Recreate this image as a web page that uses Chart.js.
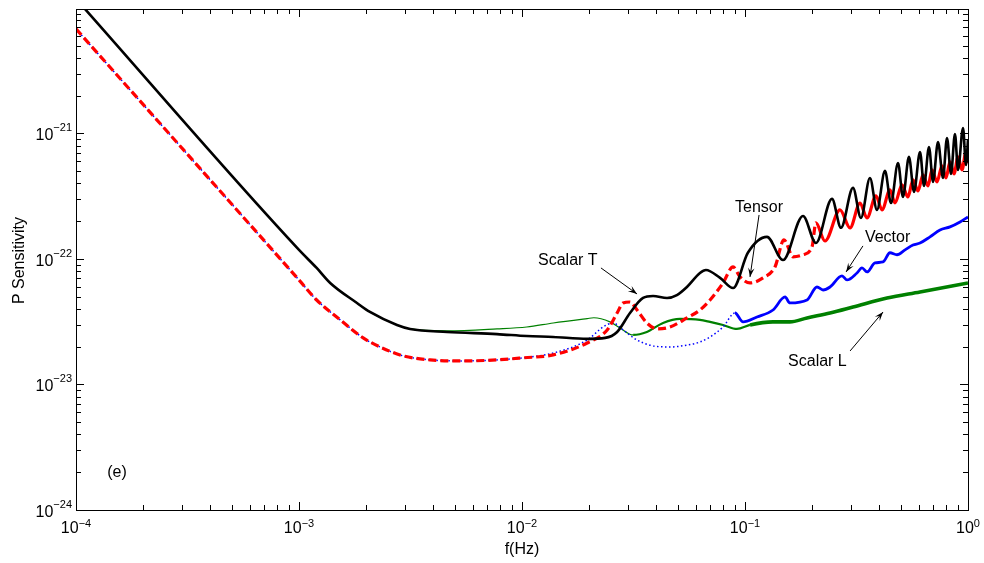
<!DOCTYPE html>
<html>
<head>
<meta charset="utf-8">
<script src="https://cdn.jsdelivr.net/npm/chart.js@4"></script>
<style>
  html, body { margin: 0; padding: 0; background: #fff; }
  #wrap { width: 984px; height: 563px; }
</style>
</head>
<body>
<div id="wrap"><canvas id="sens" width="984" height="563"></canvas></div>
<script>
// frequencies (Hz) and sensitivities
const scalarTFreq = [1e-4, 1e-3, 1.2e-3, 1.38e-3, 1.82e-3, 2.08e-3, 2.75e-3, 3.15e-3, 4.61e-3, 7.73e-3, 1.05e-2,
    1.38e-2, 1.96e-2, 2.36e-2, 2.67e-2, 3.05e-2, 3.49e-2, 3.87e-2, 4.47e-2, 4.95e-2, 5.49e-2,
    6.28e-2, 6.68e-2, 7.73e-2, 8.84e-2, 0.103, 0.1255, 0.148, 0.182, 0.208, 0.2455,
    0.2694, 0.305, 0.331, 0.3634, 0.3907, 0.4244, 0.4516, 0.4855, 0.511, 0.5436,
    0.5726, 0.6093, 0.635, 0.6685, 0.6966, 0.7337, 0.7726, 0.805, 0.839, 0.874,
    0.902, 0.950, 0.979, 1.0];
const scalarTVal = [1.18e-20, 1.18e-22, 8.48e-23, 6.44e-23, 4.46e-23, 3.78e-23, 2.98e-23, 2.77e-23, 2.62e-23, 2.52e-23, 2.43e-23,
    2.39e-23, 2.31e-23, 2.35e-23, 2.62e-23, 3.71e-23, 4.89e-23, 5.07e-23, 4.89e-23, 5.16e-23, 5.98e-23,
    7.73e-23, 8.17e-23, 7.06e-23, 5.87e-23, 1.12e-22, 1.5e-22, 9.8e-23, 2.2e-22, 1.34e-22, 3.01e-22,
    1.77e-22, 3.68e-22, 2.12e-22, 4.42e-22, 2.46e-22, 5.03e-22, 2.79e-22, 5.82e-22, 3.12e-22, 6.5e-22,
    3.42e-22, 7.12e-22, 3.82e-22, 7.8e-22, 4.11e-22, 8.55e-22, 4.42e-22, 9.2e-22, 4.76e-22, 9.9e-22,
    5.12e-22, 1.106e-21, 5.61e-22, 8.87e-22];

const tensorFreq = [1e-4, 1e-3, 1.2e-3, 1.53e-3, 1.94e-3, 2.31e-3, 2.93e-3, 3.87e-3, 5.44e-3, 7.73e-3, 1.01e-2,
    1.38e-2, 1.96e-2, 2.41e-2, 2.67e-2, 2.84e-2, 3.05e-2, 3.28e-2, 3.63e-2, 4.03e-2, 4.61e-2,
    5.49e-2, 6.28e-2, 6.97e-2, 7.97e-2, 8.84e-2, 9.5e-2, 0.1053, 0.1204, 0.1363, 0.1496,
    0.1642, 0.182, 0.1998, 0.208, 0.2284, 0.2667, 0.2958, 0.328, 0.3524, 0.3867,
    0.4115, 0.4468, 0.4706, 0.5058, 0.5381, 0.5668, 0.5969, 0.6285, 0.6616, 0.6897,
    0.7261, 0.7646, 0.7966, 0.8304, 0.8655, 0.902, 0.940, 0.979, 1.0];
const tensorVal = [6.8e-21, 6.8e-23, 4.71e-23, 3.27e-23, 2.35e-23, 1.99e-23, 1.69e-23, 1.57e-23, 1.54e-23, 1.57e-23, 1.63e-23,
    1.72e-23, 2.14e-23, 2.72e-23, 3.71e-23, 4.46e-23, 4.54e-23, 3.92e-23, 3.09e-23, 2.77e-23, 2.87e-23,
    3.39e-23, 3.92e-23, 4.71e-23, 6.44e-23, 8.64e-23, 7.19e-23, 6.44e-23, 7.06e-23, 8.64e-23, 1.42e-22,
    1.04e-22, 1.08e-22, 1.25e-22, 1.94e-22, 1.39e-22, 2.46e-22, 1.77e-22, 2.79e-22, 2.12e-22, 3.18e-22,
    2.46e-22, 3.55e-22, 2.79e-22, 3.89e-22, 3.12e-22, 4.26e-22, 3.48e-22, 4.67e-22, 3.82e-22, 5.12e-22,
    4.11e-22, 5.51e-22, 4.42e-22, 5.93e-22, 4.76e-22, 6.5e-22, 5.12e-22, 7.12e-22, 5.82e-22];

const vectorFreq = [1e-4, 1e-3, 1.2e-3, 1.53e-3, 1.94e-3, 2.31e-3, 2.93e-3, 3.87e-3, 5.44e-3, 7.73e-3, 1.01e-2,
    1.38e-2, 1.96e-2, 2.31e-2, 2.56e-2, 2.84e-2, 3.28e-2, 3.87e-2, 4.61e-2, 5.49e-2, 6.28e-2,
    6.97e-2, 7.97e-2, 9.02e-2, 9.8e-2, 0.1132, 0.1335, 0.1512, 0.159, 0.1897, 0.2103,
    0.2238, 0.2406, 0.2723, 0.2867, 0.3178, 0.3347, 0.3524, 0.3828, 0.4157, 0.4468,
    0.4804, 0.522, 0.5668, 0.6093, 0.6755, 0.749, 0.8304, 0.921, 1.0];
const vectorVal = [6.8e-21, 6.8e-23, 4.71e-23, 3.27e-23, 2.35e-23, 1.99e-23, 1.69e-23, 1.57e-23, 1.54e-23, 1.57e-23, 1.63e-23,
    1.78e-23, 2.26e-23, 2.87e-23, 3.09e-23, 2.72e-23, 2.26e-23, 2.03e-23, 1.99e-23, 2.06e-23, 2.18e-23,
    2.39e-23, 2.87e-23, 3.71e-23, 3.15e-23, 3.45e-23, 3.92e-23, 4.98e-23, 4.46e-23, 4.71e-23, 5.98e-23,
    5.66e-23, 5.98e-23, 7.32e-23, 6.8e-23, 7.73e-23, 8.48e-23, 7.88e-23, 9.3e-23, 9.46e-23, 1.12e-22,
    1.08e-22, 1.18e-22, 1.29e-22, 1.34e-22, 1.5e-22, 1.7e-22, 1.8e-22, 1.97e-22, 2.16e-22];

const scalarLFreq = [1e-4, 1e-3, 1.2e-3, 1.38e-3, 1.82e-3, 2.08e-3, 2.75e-3, 3.15e-3, 4.61e-3, 7.73e-3, 1.05e-2,
    1.38e-2, 1.96e-2, 2.1e-2, 2.48e-2, 2.75e-2, 3.15e-2, 3.63e-2, 4.29e-2, 5.11e-2, 6.28e-2,
    6.97e-2, 7.97e-2, 9.2e-2, 0.1053, 0.1335, 0.159, 0.1897, 0.2406, 0.305, 0.4334,
    0.6093, 1.0];
const scalarLVal = [1.18e-20, 1.18e-22, 8.48e-23, 6.44e-23, 4.46e-23, 3.78e-23, 2.98e-23, 2.77e-23, 2.67e-23, 2.77e-23, 2.87e-23,
    3.09e-23, 3.35e-23, 3.4e-23, 3.15e-23, 2.82e-23, 2.48e-23, 2.62e-23, 3.09e-23, 3.33e-23, 3.27e-23,
    3.15e-23, 2.98e-23, 2.77e-23, 2.98e-23, 3.15e-23, 3.15e-23, 3.39e-23, 3.71e-23, 4.14e-23, 4.89e-23,
    5.46e-23, 6.44e-23];

// axis ticks
const xTickValues = [1e-4, 1e-3, 1e-2, 1e-1, 1];
const xTickExps = ['\u22124', '\u22123', '\u22122', '\u22121', '0'];
const yTickValues = [1e-24, 1e-23, 1e-22, 1e-21];
const yTickExps = ['\u221224', '\u221223', '\u221222', '\u221221'];

// text labels with arrows, in data coordinates
const notes = [
    { text: 'Scalar T', at: [1.18e-2, 8.95e-23], from: [2.26e-2, 8.48e-23], to: [3.28e-2, 5.26e-23] },
    { text: 'Tensor', at: [9.02e-2, 2.37e-22], from: [0.1156, 2.24e-22], to: [0.1053, 7.19e-23] },
    { text: 'Vector', at: [0.345, 1.37e-22], from: [0.338, 1.27e-22], to: [0.284, 7.88e-23] },
    { text: 'Scalar L', at: [0.156, 1.40e-23], from: [0.296, 1.85e-23], to: [0.416, 3.78e-23] }
];
const panelTag = { text: '(e)', at: [1.38e-4, 1.83e-24] };

const FONT = '"Liberation Sans", Arial, Helvetica, sans-serif';

function pts(xs, ys) {
    return xs.map((f, i) => ({ x: f, y: ys[i] }));
}

const matlabAxes = {
    id: 'matlabAxes',
    afterDatasetsDraw(chart) {
        const { ctx, chartArea: a, scales: { x, y } } = chart;
        ctx.save();
        ctx.strokeStyle = '#000';
        ctx.fillStyle = '#000';
        ctx.lineWidth = 1;
        ctx.strokeRect(Math.round(a.left) + 0.5, Math.round(a.top) + 0.5,
            Math.round(a.right - a.left), Math.round(a.bottom - a.top));

        // inward ticks on all four sides
        ctx.beginPath();
        xTickValues.forEach((d) => {
            for (let m = 1; m <= 9; m++) {
                const v = d * m;
                if (v > x.max * 1.0001) break;
                const px = Math.round(x.getPixelForValue(v)) + 0.5;
                const len = m === 1 ? 8 : 5;
                ctx.moveTo(px, a.bottom); ctx.lineTo(px, a.bottom - len);
                ctx.moveTo(px, a.top); ctx.lineTo(px, a.top + len);
            }
        });
        yTickValues.forEach((d) => {
            for (let m = 1; m <= 9; m++) {
                const v = d * m;
                if (v > y.max) break;
                const py = Math.round(y.getPixelForValue(v)) + 0.5;
                const len = m === 1 ? 8 : 5;
                ctx.moveTo(a.left, py); ctx.lineTo(a.left + len, py);
                ctx.moveTo(a.right, py); ctx.lineTo(a.right - len, py);
            }
        });
        ctx.stroke();

        // tick labels 10^n
        const big = '16px ' + FONT, small = '11px ' + FONT;
        ctx.textBaseline = 'alphabetic';
        ctx.textAlign = 'left';
        xTickValues.forEach((v, i) => {
            const px = x.getPixelForValue(v);
            ctx.font = big; const w1 = ctx.measureText('10').width;
            ctx.font = small; const w2 = ctx.measureText(xTickExps[i]).width;
            const x0 = px - (w1 + w2) / 2;
            ctx.font = big; ctx.fillText('10', x0, a.bottom + 23);
            ctx.font = small; ctx.fillText(xTickExps[i], x0 + w1, a.bottom + 17);
        });
        yTickValues.forEach((v, i) => {
            const py = y.getPixelForValue(v);
            ctx.font = small; const w2 = ctx.measureText(yTickExps[i]).width;
            const xr = a.left - 4;
            ctx.fillText(yTickExps[i], xr - w2, py - 2);
            ctx.font = big; const w1 = ctx.measureText('10').width;
            ctx.fillText('10', xr - w2 - w1, py + 7);
        });

        // axis titles
        ctx.font = big;
        ctx.textAlign = 'center';
        ctx.fillText('f(Hz)', (a.left + a.right) / 2, a.bottom + 44);
        ctx.save();
        ctx.translate(24, (a.top + a.bottom) / 2 + 1);
        ctx.rotate(-Math.PI / 2);
        ctx.fillText('P Sensitivity', 0, 0);
        ctx.restore();

        // annotations
        ctx.textAlign = 'left';
        ctx.font = big;
        ctx.fillText(panelTag.text, x.getPixelForValue(panelTag.at[0]), y.getPixelForValue(panelTag.at[1]));
        notes.forEach((n) => {
            ctx.fillText(n.text, x.getPixelForValue(n.at[0]), y.getPixelForValue(n.at[1]));
            const x1 = x.getPixelForValue(n.from[0]), y1 = y.getPixelForValue(n.from[1]);
            const x2 = x.getPixelForValue(n.to[0]), y2 = y.getPixelForValue(n.to[1]);
            const ang = Math.atan2(y2 - y1, x2 - x1);
            ctx.lineWidth = 1;
            ctx.beginPath();
            ctx.moveTo(x1, y1); ctx.lineTo(x2, y2);
            ctx.stroke();
            const L = 9, W = 3.2;
            const bx = x2 - L * Math.cos(ang), by = y2 - L * Math.sin(ang);
            const nx = -Math.sin(ang), ny = Math.cos(ang);
            ctx.beginPath();
            ctx.moveTo(x2, y2);
            ctx.lineTo(bx + W * nx, by + W * ny);
            ctx.lineTo(x2 - 0.6 * L * Math.cos(ang), y2 - 0.6 * L * Math.sin(ang));
            ctx.lineTo(bx - W * nx, by - W * ny);
            ctx.closePath();
            ctx.fill();
        });
        ctx.restore();
    }
};

const fromX = (c) => c.p0.parsed.x;

new Chart(document.getElementById('sens'), {
    type: 'line',
    data: {
        datasets: [
            {
                label: 'Scalar T',
                data: pts(scalarTFreq, scalarTVal),
                borderColor: '#000000',
                borderWidth: 2.6
            },
            {
                label: 'Tensor',
                data: pts(tensorFreq, tensorVal),
                borderColor: '#ff0000',
                borderWidth: 3.2,
                segment: {
                    borderDash: (c) => fromX(c) < 0.2 ? [8, 4] : []
                }
            },
            {
                label: 'Vector',
                data: pts(vectorFreq, vectorVal),
                borderColor: '#0000ff',
                borderWidth: 1.5,
                segment: {
                    borderDash: (c) => fromX(c) < 0.085 ? [1.5, 2.5] : [],
                    borderWidth: (c) => fromX(c) < 0.085 ? 1.5 : 2.8
                }
            },
            {
                label: 'Scalar L',
                data: pts(scalarLFreq, scalarLVal),
                borderColor: '#008000',
                borderWidth: 1.2,
                segment: {
                    borderWidth: (c) => fromX(c) < 0.03 ? 1.2 : (fromX(c) < 0.1 ? 2.2 : 3.6)
                }
            }
        ]
    },
    options: {
        responsive: false,
        animation: false,
        devicePixelRatio: 1,
        layout: { padding: { left: 76, right: 16, top: 9, bottom: 53 } },
        elements: {
            point: { radius: 0 },
            line: { cubicInterpolationMode: 'monotone', borderCapStyle: 'butt' }
        },
        scales: {
            x: { type: 'logarithmic', min: 1e-4, max: 1, display: false },
            y: { type: 'logarithmic', min: 1e-24, max: 9.8e-21, display: false }
        },
        plugins: {
            legend: { display: false },
            tooltip: { enabled: false }
        }
    },
    plugins: [matlabAxes]
});
</script>
</body>
</html>
